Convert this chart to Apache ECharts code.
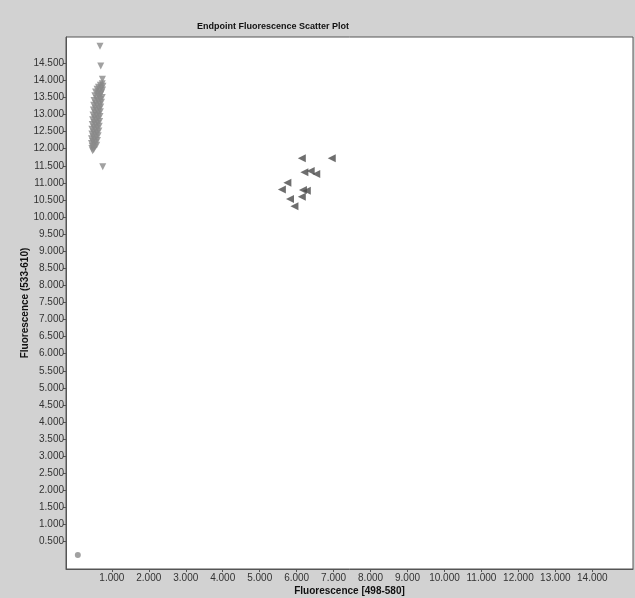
<!DOCTYPE html>
<html>
<head>
<meta charset="utf-8">
<script src="https://cdn.jsdelivr.net/npm/echarts@6/dist/echarts.min.js"></script>
<style>
  html, body { margin: 0; padding: 0; background: #d2d2d2; }
  #chart { width: 635px; height: 598px; }
</style>
</head>
<body>
<div id="chart"></div>
<script>
// tick positions (RFU), labels shown in thousands with 3 decimals
const xTicks = [1000, 2000, 3000, 4000, 5000, 6000, 7000, 8000, 9000, 10000, 11000, 12000, 13000, 14000];
const yTicks = [500, 1000, 1500, 2000, 2500, 3000, 3500, 4000, 4500, 5000, 5500, 6000, 6500, 7000,
  7500, 8000, 8500, 9000, 9500, 10000, 10500, 11000, 11500, 12000, 12500, 13000, 13500, 14000, 14500];

// [x, y] wells - down triangles, tall cluster near x ~ 600
const clusterA = [
  [680, 15000], [700, 14420], [745, 14030], [755, 11470],
  [740, 13900], [690, 13860], [760, 13830], [640, 13800], [710, 13770], [600, 13740],
  [750, 13720], [660, 13690], [560, 13660], [720, 13640], [620, 13610], [690, 13580],
  [540, 13550], [650, 13530], [740, 13500], [590, 13470], [690, 13440], [520, 13410],
  [630, 13390], [720, 13360], [560, 13330], [670, 13300], [510, 13270], [610, 13250],
  [700, 13220], [550, 13190], [660, 13160], [500, 13130], [600, 13110], [690, 13080],
  [540, 13050], [640, 13020], [490, 12990], [590, 12970], [680, 12940], [530, 12910],
  [630, 12880], [480, 12850], [580, 12830], [670, 12800], [520, 12770], [620, 12740],
  [470, 12710], [570, 12690], [660, 12660], [510, 12630], [610, 12600], [460, 12570],
  [560, 12550], [650, 12520], [500, 12490], [600, 12460], [460, 12430], [550, 12410],
  [630, 12380], [490, 12350], [580, 12320], [450, 12290], [530, 12270], [610, 12240],
  [480, 12210], [560, 12180], [450, 12150], [520, 12130], [590, 12100], [470, 12070],
  [540, 12040], [460, 12010], [510, 11980], [480, 11940]
];

// left triangles, cluster around (6200, 11000)
const clusterB = [
  [6140, 11720], [6950, 11720], [6210, 11310], [6380, 11350], [6530, 11260],
  [5750, 11005], [5600, 10810], [6170, 10790], [6275, 10770], [6140, 10595],
  [5820, 10530], [5940, 10320]
];

// circle - no template control
const clusterC = [[80, 110]];

const fmt = v => (v / 1000).toFixed(3);
const labelStyle = { color: '#333', fontSize: 10, fontFamily: 'Liberation Sans' };
const nameStyle = { fontSize: 10, fontWeight: 'bold', color: '#111', fontFamily: 'Liberation Sans' };

const chart = echarts.init(document.getElementById('chart'));
chart.setOption({
  backgroundColor: '#d2d2d2',
  animation: false,
  title: {
    text: 'Endpoint Fluorescence Scatter Plot',
    left: 192,
    top: 17,
    textStyle: { fontSize: 9, fontWeight: 'bold', color: '#111', fontFamily: 'Liberation Sans' },
  },
  grid: {
    left: 66,
    top: 37,
    right: 2,
    bottom: 29,
    outerBoundsMode: 'none',
    show: true,
    backgroundColor: '#fff',
    borderColor: '#555',
    borderWidth: 1,
  },
  xAxis: {
    type: 'value',
    min: -240,
    max: 15100,
    name: 'Fluorescence [498-580]',
    nameLocation: 'middle',
    nameGap: 17,
    nameMoveOverlap: false,
    nameTextStyle: nameStyle,
    splitLine: { show: false },
    axisLine: { onZero: false, lineStyle: { color: '#555' } },
    axisTick: { customValues: xTicks, length: 3, lineStyle: { color: '#555' } },
    minorTick: { show: false },
    axisLabel: { customValues: xTicks, formatter: fmt, margin: 4, ...labelStyle },
  },
  yAxis: {
    type: 'value',
    min: -300,
    max: 15270,
    name: 'Fluorescence (533-610)',
    nameLocation: 'middle',
    nameGap: 36,
    nameMoveOverlap: false,
    nameTextStyle: nameStyle,
    splitLine: { show: false },
    axisLine: { onZero: false, lineStyle: { color: '#555' } },
    axisTick: { customValues: yTicks, length: 3, lineStyle: { color: '#555' } },
    minorTick: { show: false },
    axisLabel: { customValues: yTicks, formatter: fmt, margin: 2, ...labelStyle },
  },
  series: [
    {
      type: 'scatter',
      data: clusterA,
      symbol: 'triangle',
      symbolRotate: 180,
      symbolSize: 7,
      itemStyle: { color: '#8a8a8a' },
    },
    {
      type: 'scatter',
      data: clusterB,
      symbol: 'triangle',
      symbolRotate: 90,
      symbolSize: 8,
      itemStyle: { color: '#4a4a4a' },
    },
    {
      type: 'scatter',
      data: clusterC,
      symbol: 'circle',
      symbolSize: 6,
      itemStyle: { color: '#8a8a8a' },
    },
  ],
});
</script>
</body>
</html>
